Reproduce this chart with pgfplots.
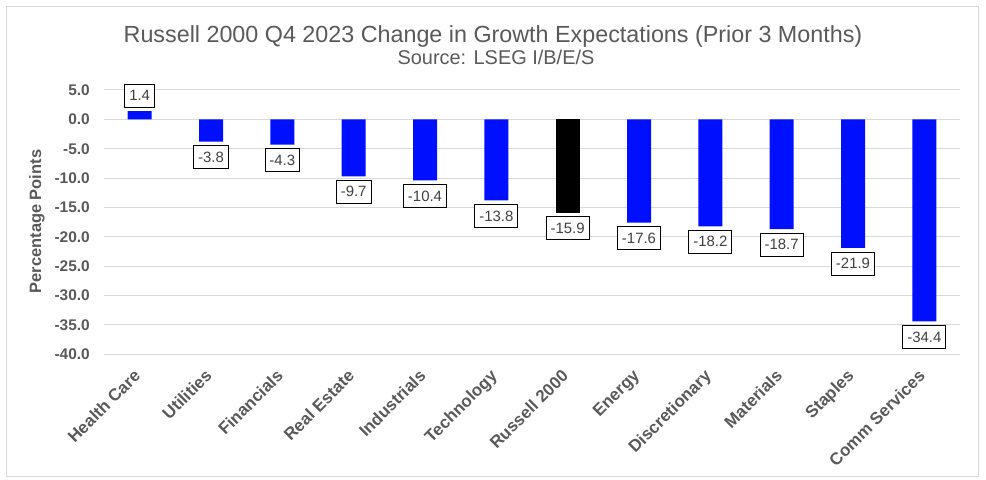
\documentclass[border=0pt]{standalone}
\usepackage{pgfplots}
\pgfplotsset{compat=1.18}
\usepackage{fontspec}
\setmainfont{Liberation Sans}
\definecolor{txt}{RGB}{89,89,89}
\definecolor{lbl}{RGB}{64,64,64}
\definecolor{gridc}{RGB}{217,217,217}
\definecolor{barblue}{RGB}{0,16,255}
\begin{document}
\begin{tikzpicture}[x=1bp,y=1bp]
\path[use as bounding box] (0,0) rectangle (986,480);
\draw[gridc, line width=1bp] (6.5,3.5) rectangle (978.5,473);
\node[anchor=base, text=txt, font=\fontsize{23.4}{28}\selectfont] at (493,437) {Russell 2000 Q4 2023 Change in Growth Expectations (Prior 3 Months)};
\node[anchor=base, text=txt, font=\fontsize{20}{24}\selectfont] at (496,415) {Source: LSEG I/B/E/S};
\node[rotate=90, text=txt, font=\fontsize{16.5}{20}\selectfont\bfseries] at (37,258.5) {Percentage Points};
\begin{axis}[
  at={(104bp,125.7bp)}, anchor=south west,
  scale only axis, width=856bp, height=264.3bp,
  ymin=-40, ymax=5, xmin=-0.5, xmax=11.5,
  ytick={-40,-35,...,5},
  ymajorgrids, grid style={gridc, line width=1bp},
  axis line style={draw=none},
  major tick length=0pt,
  xtick={0,...,11},
  xticklabels={Health Care, Utilities, Financials, Real Estate, Industrials, Technology, Russell 2000, Energy, Discretionary, Materials, Staples, Comm Services},
  xticklabel style={xshift=-7bp, yshift=-14bp, rotate=45, anchor=north east, font=\fontsize{17}{20}\selectfont\bfseries, text=txt, inner sep=0pt},
  yticklabel style={font=\fontsize{15.5}{18}\selectfont\bfseries, text=txt, inner sep=0pt, xshift=-14bp,
    /pgf/number format/fixed, /pgf/number format/fixed zerofill, /pgf/number format/precision=1, /pgf/number format/assume math mode=true},
  nodes near coords={\pgfmathprintnumber[fixed,fixed zerofill,precision=1,assume math mode=true]{\pgfplotspointmeta}},
  nodes near coords style={font=\fontsize{15}{18}\selectfont, text=lbl, draw=black, fill=white, line width=0.8bp, inner xsep=4.5bp, inner ysep=0pt, minimum height=23bp, outer sep=4bp},
  clip=false,
]
\addplot[ybar, bar width=24bp, bar shift=0pt, fill=barblue, draw=none] coordinates {
(0,1.4) (1,-3.8) (2,-4.3) (3,-9.7) (4,-10.4) (5,-13.8) (7,-17.6) (8,-18.2) (9,-18.7) (10,-21.9) (11,-34.4)};
\addplot[ybar, bar width=24bp, bar shift=0pt, fill=black, draw=none] coordinates {(6,-15.9)};
\end{axis}
\end{tikzpicture}
\end{document}
